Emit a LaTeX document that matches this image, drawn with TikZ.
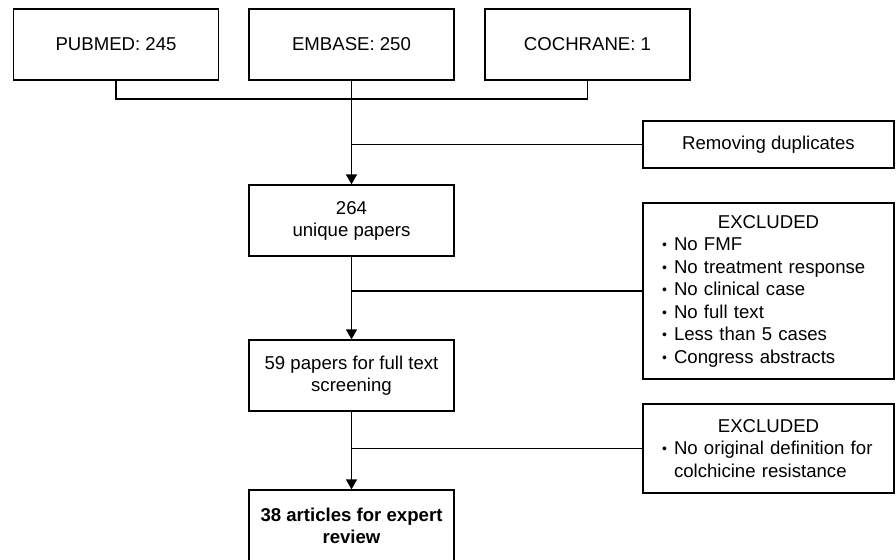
\documentclass[tikz,border=0pt]{standalone}
\usepackage{fontspec}
\setmainfont{Liberation Sans}
\usepackage{tikz}
\usetikzlibrary{arrows.meta}
\tikzstyle{link} = [line width=1.3pt]
\tikzstyle{arrow} = [line width=1.3pt,-{Triangle[width=11pt,length=10pt]}]
\tikzstyle{box} = [draw,line width=1.3pt,align=center,minimum width=205pt,minimum height=71pt,inner sep=2pt,font=\fontsize{18.6}{22}\selectfont]
\tikzstyle{sidebox} = [box,minimum width=251pt,text width=213pt,inner xsep=19pt,align=left,font=\fontsize{18.6}{22.5}\selectfont]
\newcommand{\exitem}[1]{\makebox[12pt][l]{\raisebox{1pt}{\scalebox{0.75}{\textbullet}}}#1}

\begin{document}
\begin{tikzpicture}[x=1pt,y=-1pt]
        \useasboundingbox (0,0) rectangle (896,559);
        \node[box] (pubmed) at (116,44.5) {PUBMED: 245};
        \node[box] (embase) at (351.5,44.5) {EMBASE: 250};
        \node[box] (cochrane) at (587.5,44.5) {COCHRANE: 1};
        \coordinate (join) at (351.5,99);
        \node[box,minimum width=251pt,minimum height=47pt] (dupl) at (768.5,144.5) {Removing duplicates};
        \node[box] (unique) at (351.5,220.5) {264\\unique papers};
        \node[sidebox,minimum height=176pt] (excla) at (768.5,291) {\makebox[\linewidth]{EXCLUDED}\\
            \exitem{No FMF}\\
            \exitem{No treatment response}\\
            \exitem{No clinical case}\\
            \exitem{No full text}\\
            \exitem{Less than 5 cases}\\
            \exitem{Congress abstracts}};
        \node[box] (full) at (351.5,375.5) {59 papers for full text\\screening};
        \node[sidebox,minimum height=89pt] (exclb) at (768.5,448.5) {\makebox[\linewidth]{EXCLUDED}\\
            \exitem{No original definition for}\\
            \hspace*{12pt}colchicine resistance};
        \node[box] (review) at (351.5,525.5) {\textbf{38 articles for expert}\\\textbf{review}};
        \draw[link] (pubmed.south) |- (join) -| (cochrane.south);
        \draw[arrow] (embase.south) -- (unique.north);
        \draw[link] (dupl.west) -- (dupl.west -| embase.south);
        \draw[arrow] (unique.south) -- (full.north);
        \draw[link] (excla.west) -- (excla.west -| unique.south);
        \draw[arrow] (full.south) -- (review.north);
        \draw[link] (exclb.west) -- (exclb.west -| full.south);
    \end{tikzpicture}
\end{document}
